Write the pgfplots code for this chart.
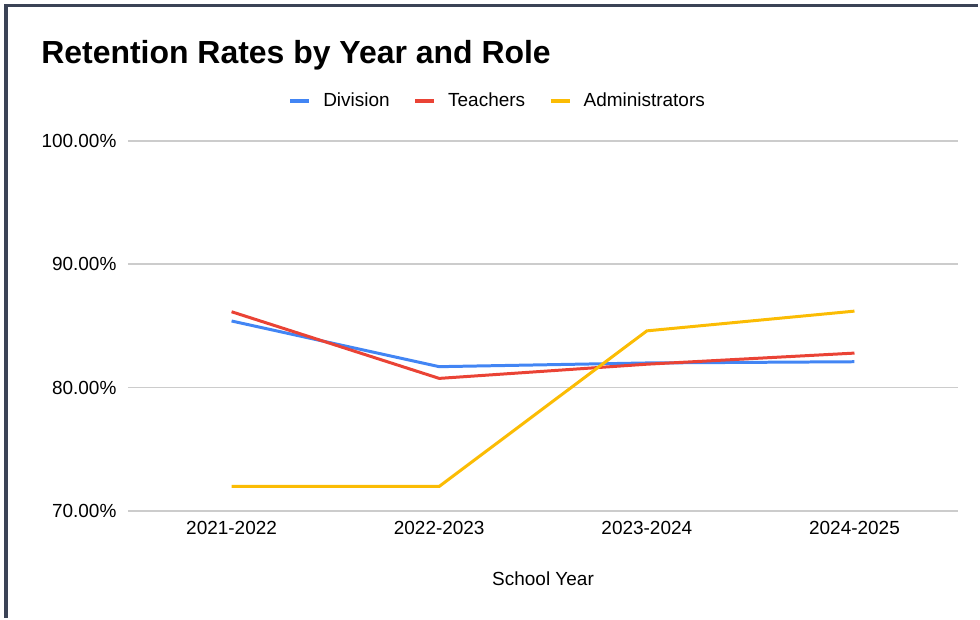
\documentclass[border=0pt]{standalone}
\usepackage{pgfplots}
\pgfplotsset{compat=1.18}
\usepackage{fontspec}
\setmainfont{Liberation Sans}
\definecolor{cdiv}{HTML}{4285F4}
\definecolor{ctea}{HTML}{EA4335}
\definecolor{cadm}{HTML}{FBBC04}
\definecolor{cgrid}{HTML}{CCCCCC}
\definecolor{cframe}{HTML}{3B4356}
\begin{document}
\begin{tikzpicture}
\begin{axis}[
  at={(64pt,-256pt)}, anchor=south west,
  scale only axis, width=416pt, height=185.5pt,
  xmin=-0.5, xmax=3.5, ymin=70, ymax=100,
  axis line style={draw=none},
  major tick length=0pt, tick style={draw=none},
  ymajorgrids, grid style={cgrid, line width=0.75pt},
  xtick={0,1,2,3}, xticklabels={2021-2022,2022-2023,2023-2024,2024-2025},
  ytick={70,80,90,100}, yticklabels={70.00\%,80.00\%,90.00\%,100.00\%},
  tick label style={font=\fontsize{9.5}{11}\selectfont, inner sep=0pt},
  yticklabel style={anchor=east, xshift=-5.5pt},
  xticklabel style={anchor=north, yshift=-5pt},
  xlabel={School Year},
  xlabel style={at={(axis description cs:0.5,0)}, anchor=base, yshift=-37.5pt, font=\fontsize{9.5}{11}\selectfont},
  legend columns=3,
  legend style={at={(0.4465,1.108)}, anchor=center, draw=none, fill=none,
    font=\fontsize{9.5}{11}\selectfont,
    /tikz/every odd column/.append style={column sep=4pt},
    /tikz/every even column/.append style={column sep=9.8pt}},
  legend image code/.code={\draw[#1, line width=2pt] (0pt,0pt) -- (9.5pt,0pt);},
  every axis plot/.append style={line width=1.5pt, mark=none},
]
\addplot[cdiv] coordinates {(0,85.4) (1,81.7) (2,82.0) (3,82.1)};
\addlegendentry{Division}
\addplot[ctea] coordinates {(0,86.15) (1,80.75) (2,81.9) (3,82.8)};
\addlegendentry{Teachers}
\addplot[cadm] coordinates {(0,72.0) (1,72.0) (2,84.6) (3,86.2)};
\addlegendentry{Administrators}
\end{axis}
\draw[cframe, line width=1.75pt] (3pt,-309.5pt) -- (3pt,-2.75pt) -- (490pt,-2.75pt);
\node[anchor=base west, font=\fontsize{16}{19}\selectfont\bfseries, inner sep=0pt] at (20.5pt,-32pt) {Retention Rates by Year and Role};
\path (0pt,0pt) rectangle (490pt,-309.5pt);
\end{tikzpicture}
\end{document}
